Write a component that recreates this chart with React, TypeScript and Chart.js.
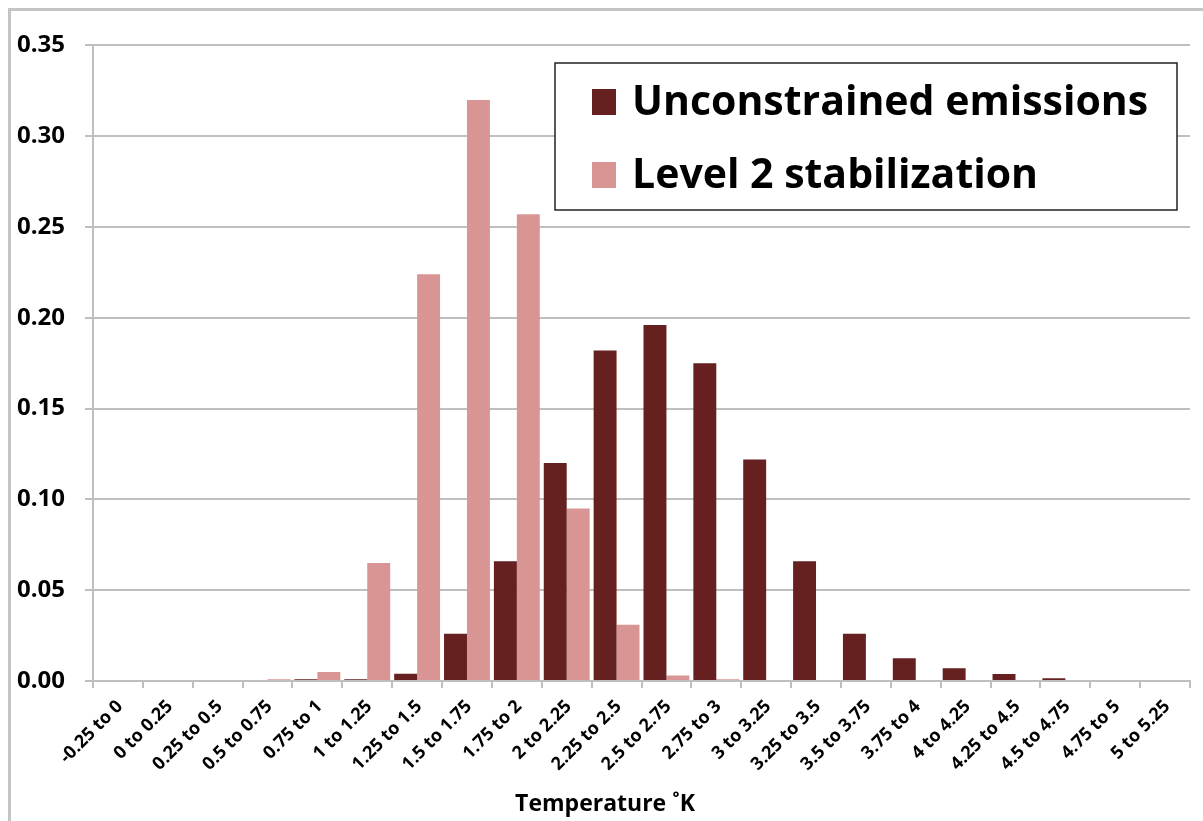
import React, { useEffect, useRef } from "react";
import { Chart, registerables } from "chart.js";
Chart.register(...registerables);

const FONT = "'Open Sans', Lato, sans-serif";

const categories = [
  "-0.25 to 0", "0 to 0.25", "0.25 to 0.5", "0.5 to 0.75", "0.75 to 1", "1 to 1.25",
  "1.25 to 1.5", "1.5 to 1.75", "1.75 to 2", "2 to 2.25", "2.25 to 2.5", "2.5 to 2.75",
  "2.75 to 3", "3 to 3.25", "3.25 to 3.5", "3.5 to 3.75", "3.75 to 4", "4 to 4.25",
  "4.25 to 4.5", "4.5 to 4.75", "4.75 to 5", "5 to 5.25",
];

const unconstrained = [
  0, 0, 0, 0, 0.001, 0.001, 0.004, 0.026, 0.066, 0.12, 0.182, 0.196,
  0.175, 0.122, 0.066, 0.026, 0.0125, 0.007, 0.0038, 0.0015, 0, 0,
];

const level2 = [
  0, 0, 0, 0.001, 0.005, 0.065, 0.224, 0.32, 0.257, 0.095, 0.031, 0.003,
  0.001, 0, 0, 0, 0, 0, 0, 0, 0, 0,
];

const seriesLabels = ["Unconstrained emissions", "Level 2 stabilization"];
const seriesColors = ["#65201F", "#D99594"];
const axisTitle = "Temperature ˚K";

const legendPlugin = {
  id: "boxLegend",
  afterDraw(chart: any) {
    const ctx = chart.ctx;
    const x = 544, y = 52, w = 622, h = 147;
    ctx.save();
    ctx.fillStyle = "#fff";
    ctx.fillRect(x, y, w, h);
    ctx.strokeStyle = "#222";
    ctx.lineWidth = 1.5;
    ctx.strokeRect(x, y, w, h);
    ctx.font = `bold 41px ${FONT}`;
    ctx.textBaseline = "middle";
    ctx.textAlign = "left";
    chart.data.datasets.forEach((ds: any, i: number) => {
      const cy = y + 39 + i * 73;
      ctx.fillStyle = ds.backgroundColor;
      ctx.fillRect(x + 37, cy - 13, 24, 26);
      ctx.fillStyle = "#000";
      ctx.fillText(ds.label, x + 77, cy + 1);
    });
    // axis title
    ctx.font = `bold 23px ${FONT}`;
    ctx.textAlign = "center";
    ctx.fillText(axisTitle, 594, 793);
    ctx.restore();
  },
};

export default function App() {
  const ref = useRef<HTMLCanvasElement | null>(null);
  useEffect(() => {
    if (!ref.current) return;
    const chart = new Chart(ref.current, {
      type: "bar",
      data: {
        labels: categories,
        datasets: [
          { label: seriesLabels[0], data: unconstrained, backgroundColor: seriesColors[0], categoryPercentage: 0.92, barPercentage: 1 },
          { label: seriesLabels[1], data: level2, backgroundColor: seriesColors[1], categoryPercentage: 0.92, barPercentage: 1 },
        ],
      },
      options: {
        animation: false,
        responsive: true,
        maintainAspectRatio: false,
        layout: { padding: { top: 31, right: 13, left: 0, bottom: 0 } },
        plugins: { legend: { display: false }, tooltip: { enabled: false } },
        scales: {
          x: {
            grid: { offset: true, drawOnChartArea: false, drawTicks: true, tickLength: 7, color: "#bfbfbf", lineWidth: 2 },
            border: { color: "#bfbfbf", width: 2 },
            ticks: { font: { family: FONT, weight: "bold", size: 18 }, color: "#000", maxRotation: 45, minRotation: 45, autoSkip: false, padding: 8, labelOffset: 2 },
            title: { display: false, text: axisTitle },
            afterFit: (s: any) => { s.height = 140; },
          },
          y: {
            min: 0,
            max: 0.35,
            ticks: { stepSize: 0.05, callback: (v: any) => Number(v).toFixed(2), font: { family: FONT, weight: "bold", size: 24 }, color: "#000", padding: 20 },
            grid: { color: "#bfbfbf", lineWidth: 2, tickLength: 8 },
            border: { color: "#bfbfbf", width: 2 },
            afterFit: (s: any) => { s.width = 82; },
          },
        },
      },
      plugins: [legendPlugin],
    } as any);
    return () => chart.destroy();
  }, []);

  return (
    <div style={{ position: "fixed", left: 8, top: 8, width: 1195, height: 813, boxSizing: "border-box", borderTop: "3px solid #c4c4c4", borderLeft: "3px solid #c4c4c4", background: "#fff" }}>
      <div style={{ position: "relative", width: 1192, height: 810 }}>
        <canvas ref={ref} />
      </div>
    </div>
  );
}
